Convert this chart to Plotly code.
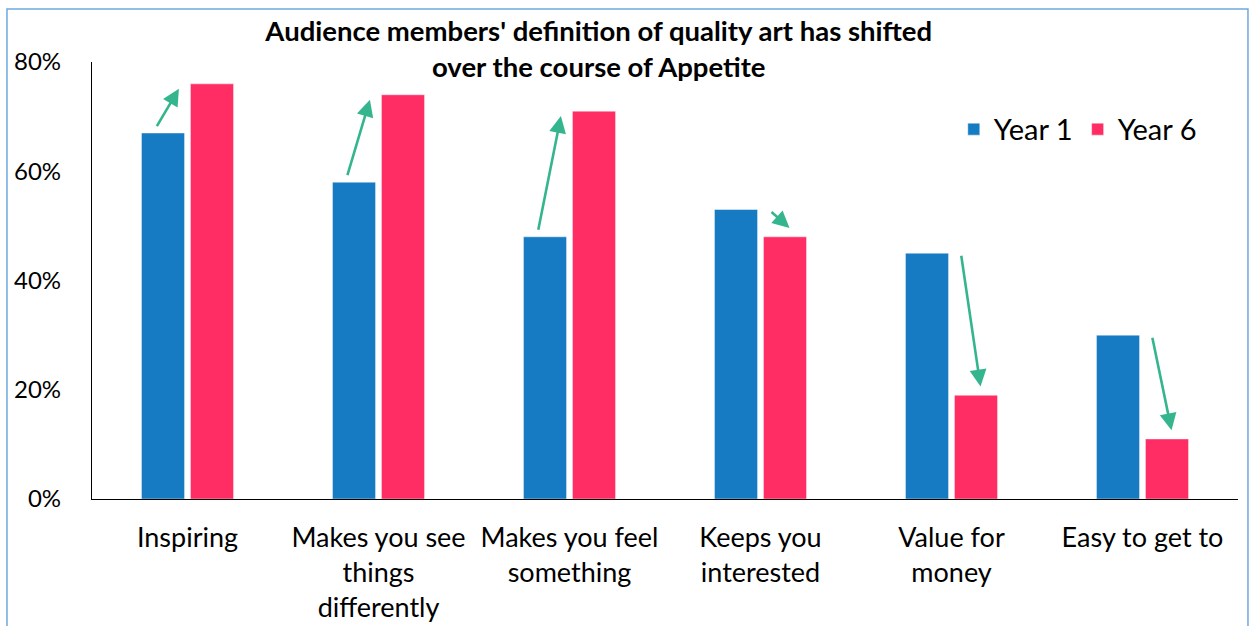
import plotly.graph_objects as go

categories = ["Inspiring", "Makes you see<br>things<br>differently", "Makes you feel<br>something",
              "Keeps you<br>interested", "Value for<br>money", "Easy to get to"]
year1 = [67, 58, 48, 53, 45, 30]
year6 = [76, 74, 71, 48, 19, 11]
y_ticks = [0, 20, 40, 60, 80]
y_tick_labels = ["0%", "20%", "40%", "60%", "80%"]

BLUE = "#167BC2"
PINK = "#FF2D64"
GREEN = "#35B58E"
FONT = "Lato"

fig = go.Figure()
fig.add_trace(go.Bar(x=categories, y=year1, name="Year 1", marker_color=BLUE,
                     marker_line=dict(color="rgba(255,255,255,0.45)", width=1)))
fig.add_trace(go.Bar(x=categories, y=year6, name="Year 6", marker_color=PINK,
                     marker_line=dict(color="rgba(255,255,255,0.45)", width=1)))

for i, (a, b) in enumerate(zip(year1, year6)):
    if b > a:
        x0, y0, x1, y1 = i - 0.165, a + 1.0, i - 0.045, b - 0.9
    else:
        x0, y0, x1, y1 = i + 0.05, a - 0.2, i + 0.152, b + 1.6
    fig.add_annotation(x=x1, y=y1, ax=x0, ay=y0, xref="x", yref="y", axref="x", ayref="y",
                       text="", showarrow=True, arrowhead=2, arrowsize=1.3, arrowwidth=2.6,
                       arrowcolor=GREEN)

# outer light-blue frame
fig.add_shape(type="rect", xref="paper", yref="paper", x0=-0.0742, x1=1.0087, y0=-0.31, y1=1.1213,
              line=dict(color="#6FA8DC", width=1.5), fillcolor="rgba(0,0,0,0)")

fig.update_layout(
    width=1250, height=626,
    margin=dict(l=92, r=12, t=62, b=127),
    paper_bgcolor="white", plot_bgcolor="white",
    font=dict(family=FONT, color="#000000", size=26),
    title=dict(text="<b>Audience members' definition of quality art has shifted<br>over the course of Appetite</b>",
               x=0.479, xanchor="center", xref="container", y=0.934, yanchor="middle",
               yref="container", font=dict(family=FONT, size=27.5, color="#000000")),
    barmode="group", bargap=0.487, bargroupgap=0.12,
    legend=dict(orientation="h", x=0.752, xanchor="left", y=0.846, yanchor="middle",
                font=dict(size=29), bgcolor="rgba(0,0,0,0)", itemwidth=30),
    showlegend=True,
)
fig.update_xaxes(showline=True, linecolor="#000000", linewidth=1.2, ticks="", showgrid=False,
                 tickfont=dict(size=27), ticklabelstandoff=14, zeroline=False, automargin=False)
fig.update_yaxes(range=[0, 80], tickvals=y_ticks, ticktext=y_tick_labels, showline=True,
                 linecolor="#000000", linewidth=1.2, showgrid=False, zeroline=False, ticks="",
                 tickfont=dict(size=24), ticklabelstandoff=25, automargin=False)

fig.write_html("out.html", config={"displayModeBar": False},
               post_script="document.body.style.margin='0';")
